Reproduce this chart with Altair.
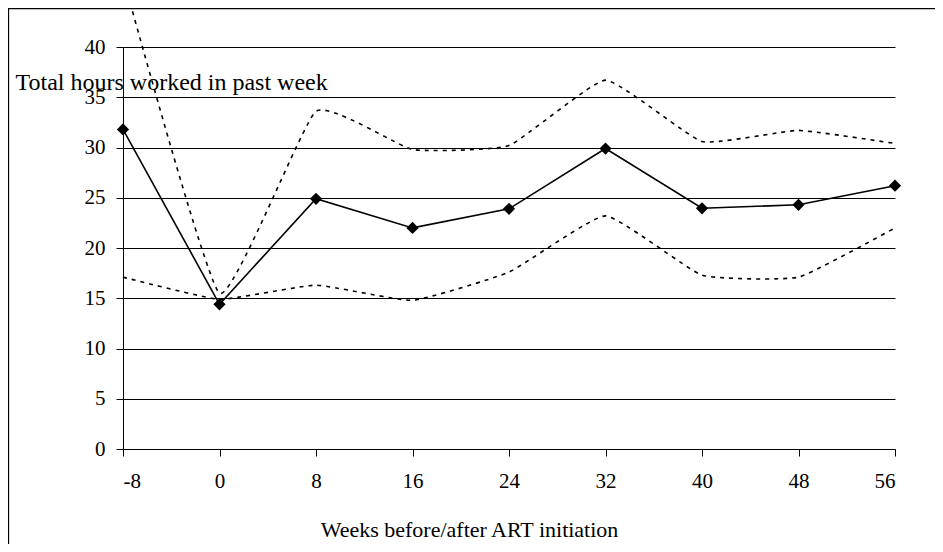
import altair as alt
import pandas as pd

weeks = [-8, 0, 8, 16, 24, 32, 40, 48, 56]
mean_hours = [31.8, 14.4, 24.9, 22.0, 23.9, 29.9, 23.95, 24.3, 26.2]
upper_ci = [47.0, 15.5, 33.6, 29.8, 30.2, 36.7, 30.6, 31.7, 30.4]
lower_ci = [17.1, 14.9, 16.3, 14.8, 17.6, 23.2, 17.3, 17.1, 22.0]
y_ticks = [0, 5, 10, 15, 20, 25, 30, 35, 40]

x_title = "Weeks before/after ART initiation"
y_title = "Total hours worked in past week"

FONT = "Times New Roman, Liberation Serif, serif"

df = pd.DataFrame({"week": weeks, "mean": mean_hours, "upper": upper_ci, "lower": lower_ci})

x_axis = alt.Axis(
    values=weeks, grid=False, domainColor="black", domainWidth=1,
    tickColor="black", tickSize=7, tickWidth=1,
    labelFont=FONT, labelFontSize=21, labelColor="black", labelPadding=14,
    labelExpr="'' + datum.value",
    title=x_title, titleFont=FONT, titleFontSize=22, titleFontWeight="normal",
    titleColor="black", titleX=346, titleY=80, titleAlign="center",
    titleBaseline="middle", titleAnchor="middle",
)
y_axis = alt.Axis(
    values=y_ticks, grid=True, gridColor="black", gridWidth=1,
    domainColor="black", domainWidth=1, tickColor="black", tickSize=7,
    labelFont=FONT, labelFontSize=21, labelColor="black", labelPadding=11,
    title=y_title, titleFont=FONT, titleFontSize=24, titleFontWeight="normal",
    titleColor="black", titleAngle=0, titleX=-108, titleY=35,
    titleAlign="left", titleBaseline="middle",
)

x_enc = alt.X("week:Q", scale=alt.Scale(domain=[-8, 56], nice=False, zero=False), axis=x_axis)
y_scale = alt.Scale(domain=[0, 40], nice=False, zero=True)

base = alt.Chart(df)

frame = alt.Chart(pd.DataFrame({"f": [0]})).mark_rect(
    fillOpacity=0, stroke="black", strokeWidth=1.3
).encode(
    x=alt.value(-114.5), x2=alt.value(900), y=alt.value(-38.5), y2=alt.value(600)
)

upper = base.mark_line(
    color="black", strokeWidth=1.6, strokeDash=[4, 5], interpolate="cardinal", tension=0.6
).encode(x=x_enc, y=alt.Y("upper:Q", scale=y_scale, axis=y_axis, title=y_title))

lower = base.mark_line(
    color="black", strokeWidth=1.6, strokeDash=[4, 5], interpolate="cardinal", tension=0.6
).encode(x=x_enc, y=alt.Y("lower:Q", scale=y_scale, axis=y_axis, title=y_title))

mean_line = base.mark_line(color="black", strokeWidth=1.6).encode(
    x=x_enc, y=alt.Y("mean:Q", scale=y_scale, axis=y_axis, title=y_title)
)
mean_pts = base.mark_point(shape="diamond", filled=True, size=150, color="black", opacity=1).encode(
    x=x_enc, y=alt.Y("mean:Q", scale=y_scale, axis=y_axis, title=y_title)
)

chart = alt.layer(upper, lower, mean_line, mean_pts, frame).properties(
    width=772, height=402,
    autosize=alt.AutoSizeParams(type="none"),
    padding={"left": 115, "top": 39, "right": 40, "bottom": 95},
    background="white",
).configure_view(stroke=None)

chart.save("out.html", embed_options={"renderer": "svg", "actions": False})
